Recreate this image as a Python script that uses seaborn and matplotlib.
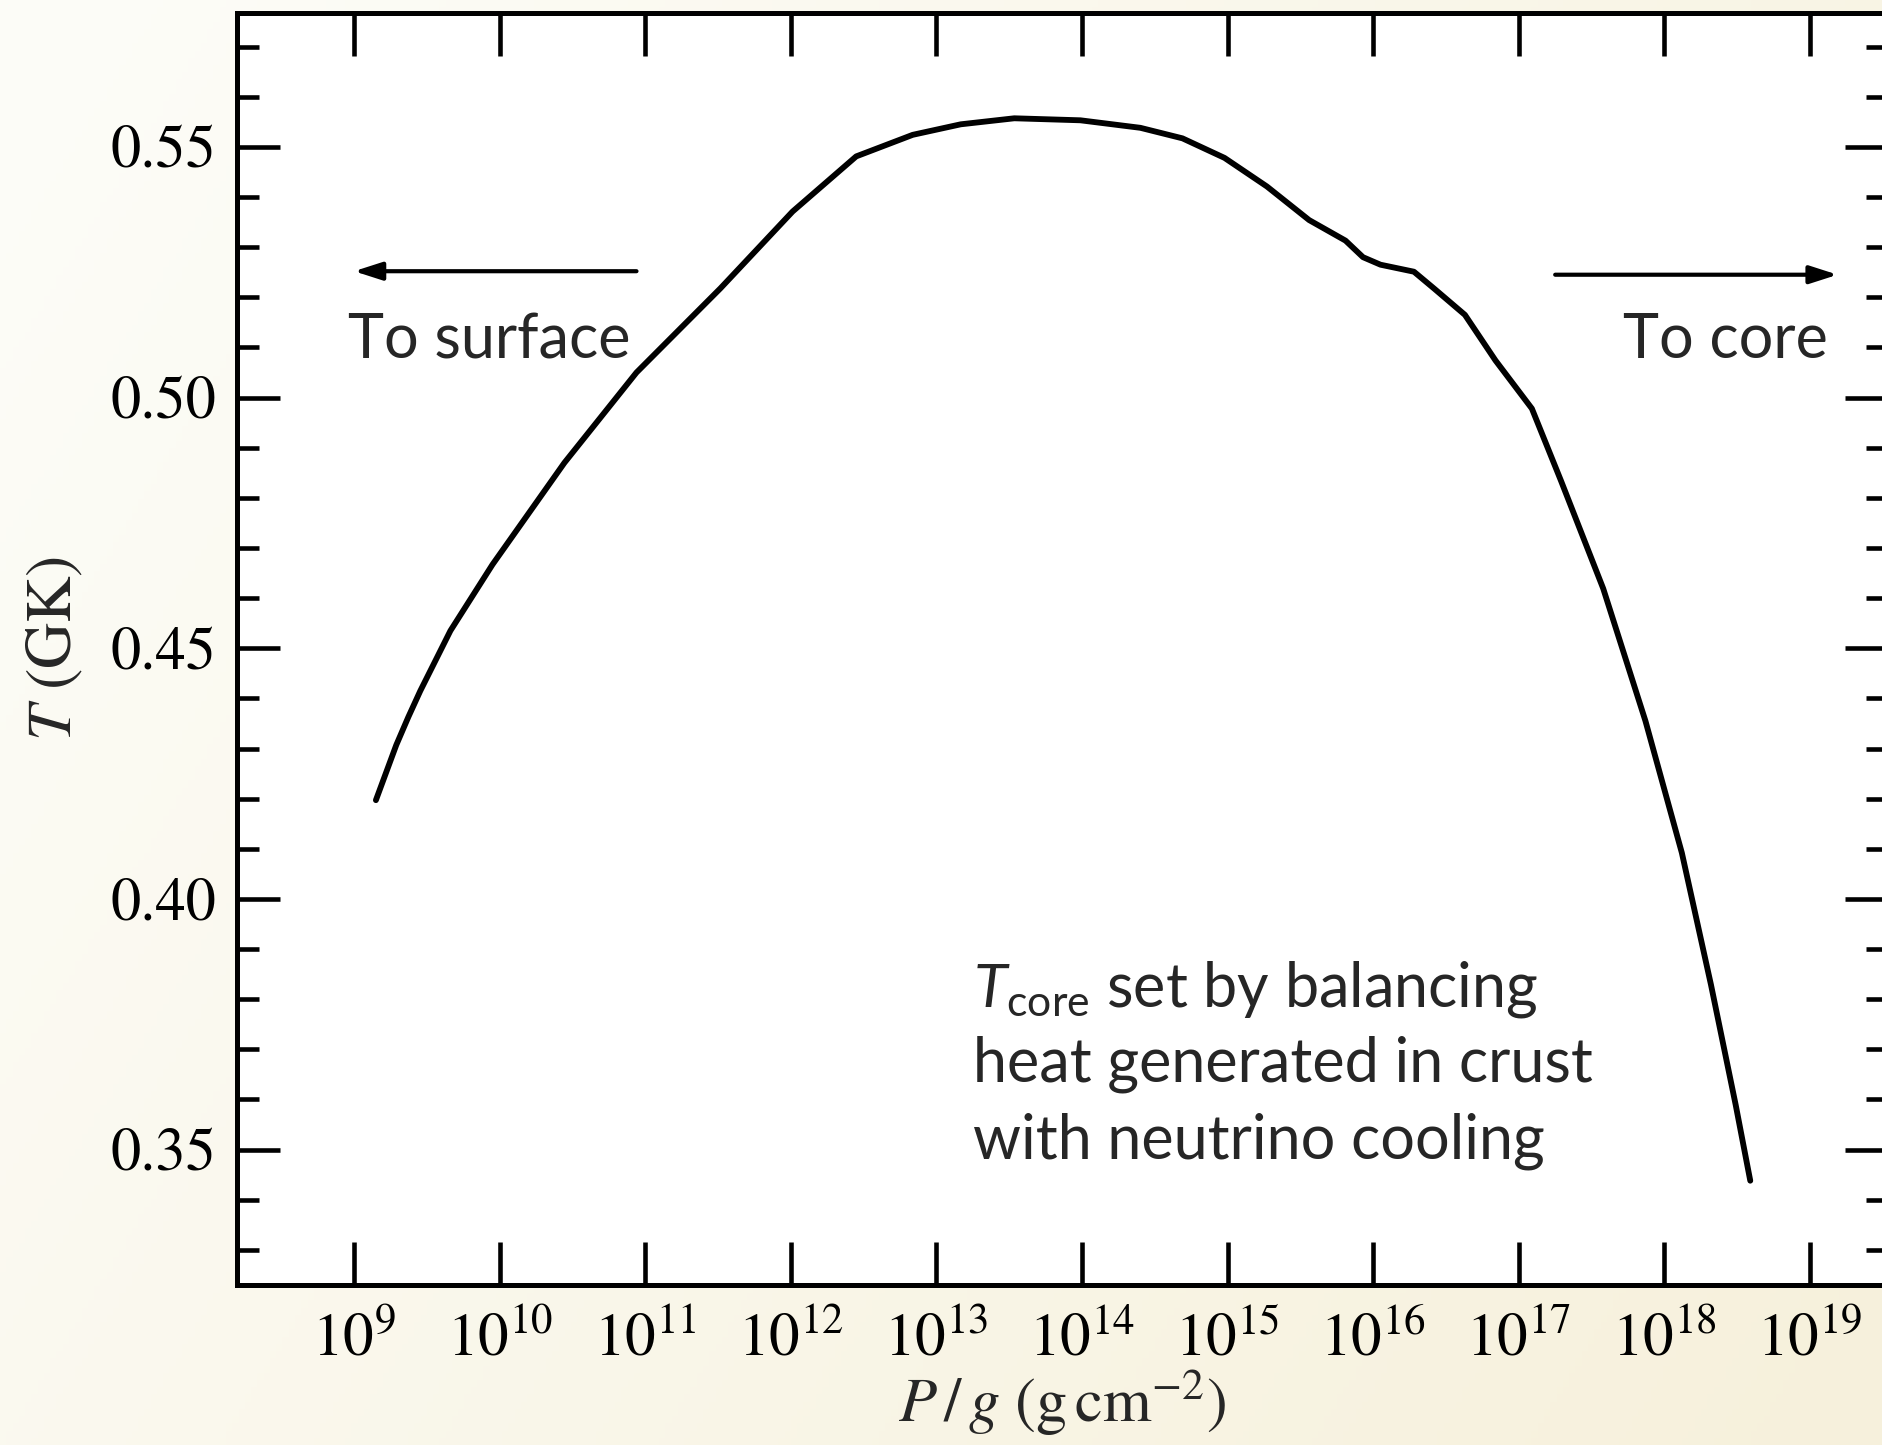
import numpy as np
import pandas as pd
import matplotlib
matplotlib.use("Agg")
import matplotlib.pyplot as plt
import matplotlib.ticker as mticker
import seaborn as sns

# ---- data ----
log_P = [9.150, 9.290, 9.373, 9.455, 9.662, 9.951, 10.445, 10.940, 11.517, 12.012, 12.449,
         12.837, 13.167, 13.535, 13.989, 14.401, 14.690, 14.979, 15.27, 15.56, 15.81,
         15.93, 16.05, 16.28, 16.42, 16.63, 16.84, 17.09, 17.29, 17.58, 17.87,
         18.12, 18.32, 18.49, 18.59]
T_GK = [0.4197, 0.4307, 0.4363, 0.4415, 0.4535, 0.4667, 0.4870, 0.5050, 0.5218, 0.5371, 0.5481,
        0.5524, 0.5545, 0.5557, 0.5553, 0.5538, 0.5517, 0.5478, 0.5421, 0.5354, 0.5313,
        0.5280, 0.5265, 0.5251, 0.5217, 0.5165, 0.5074, 0.4978, 0.4834, 0.4619, 0.4355,
        0.4092, 0.3829, 0.3589, 0.3438]
y_major_ticks = [0.35, 0.40, 0.45, 0.50, 0.55]
x_decades = list(range(9, 20))
surface_label = "To surface"
core_label = "To core"
note_lines = [r"$T_{\rm core}$ set by balancing", "heat generated in crust", "with neutrino cooling"]

df = pd.DataFrame({"P": np.power(10.0, log_P), "T": T_GK})

sns.set_theme(style="ticks")
plt.rcParams["font.family"] = ["STIXGeneral", "DejaVu Serif"]
plt.rcParams["mathtext.fontset"] = "stix"
plt.rcParams["mathtext.rm"] = "Lato"
plt.rcParams["mathtext.it"] = "Lato:italic"

W, H = 1883, 1445
fig = plt.figure(figsize=(W / 100, H / 100), dpi=100)

# cream gradient background
bg = fig.add_axes([0, 0, 1, 1], zorder=-10)
gx = np.linspace(0, 1, 300)[None, :]
gy = np.linspace(0, 1, 200)[:, None]
t = np.clip(0.75 * gx + 0.35 * gy - 0.05, 0, 1)
c0 = np.array([0.990, 0.990, 0.970])
c1 = np.array([0.968, 0.945, 0.865])
img = c0[None, None, :] * (1 - t[..., None]) + c1[None, None, :] * t[..., None]
bg.imshow(img, aspect="auto", extent=[0, 1, 0, 1], origin="upper")
bg.axis("off")

left, right = 237 / W, 1888 / W
bottom, top = 1 - 1285 / H, 1 - 12.5 / H
ax = fig.add_axes([left, bottom, right - left, top - bottom])
ax.set_facecolor("white")

sns.lineplot(data=df, x="P", y="T", sort=False, color="black", lw=4.2, ax=ax,
             solid_capstyle="round", solid_joinstyle="round")

ax.set_xscale("log")
ax.set_xlim(10 ** 8.196, 10 ** 19.536)
ax.set_ylim(0.323, 0.5768)

ax.xaxis.set_major_locator(mticker.FixedLocator([10.0 ** d for d in x_decades]))
ax.xaxis.set_minor_locator(mticker.NullLocator())
ax.xaxis.set_major_formatter(mticker.LogFormatterMathtext())
ax.yaxis.set_major_locator(mticker.FixedLocator(y_major_ticks))
ax.yaxis.set_minor_locator(mticker.MultipleLocator(0.01))
ax.yaxis.set_major_formatter(mticker.FormatStrFormatter("%.2f"))

for s in ax.spines.values():
    s.set_linewidth(3.6)
    s.set_color("black")

ax.tick_params(which="major", direction="in", length=31, width=3.3, color="black",
               top=True, right=True, labelcolor="black")
ax.tick_params(which="minor", direction="in", length=16, width=3.3, color="black",
               top=True, right=True)
ax.tick_params(axis="x", which="major", pad=20, labelsize=44)
ax.tick_params(axis="y", which="major", pad=15, labelsize=43.5)

ax.set_xlabel(r"$P\,/\,g\ (\mathrm{g\,cm^{-2}})$", fontsize=45, labelpad=-1)
ax.set_ylabel(r"$T$ (GK)", fontsize=46, labelpad=18)

sans = ["Lato", "DejaVu Sans"]
arrow_kw = dict(arrowstyle="-|>,head_length=1.4,head_width=0.45", lw=3.0, color="black",
                shrinkA=0, shrinkB=0)
ax.annotate("", xy=(10 ** 9.0, 0.5252), xytext=(10 ** 10.94, 0.5252), arrowprops=arrow_kw)
ax.annotate("", xy=(10 ** 19.19, 0.5245), xytext=(10 ** 17.25, 0.5245), arrowprops=arrow_kw)
ax.text(10 ** 8.96, 0.5078, surface_label, family=sans, fontsize=44, ha="left", va="baseline")
ax.text(10 ** 19.12, 0.5078, core_label, family=sans, fontsize=44, ha="right", va="baseline")

for line, yv in zip(note_lines, [0.3786, 0.3635, 0.3483]):
    ax.text(10 ** 13.25, yv, line, family=sans, fontsize=44, ha="left", va="baseline",
            math_fontfamily="custom")

fig.savefig("out.png", dpi=100)
